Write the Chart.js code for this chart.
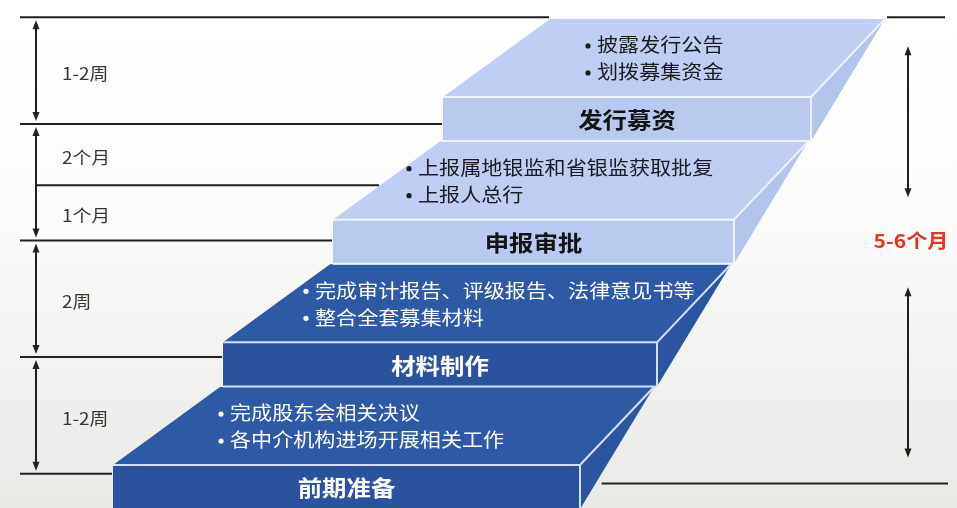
<!DOCTYPE html>
<html>
<head>
<meta charset="utf-8">
<script src="https://cdn.jsdelivr.net/npm/chart.js@4.4.0/dist/chart.umd.min.js"></script>
<style>
  html, body { margin: 0; padding: 0; background: #fff; }
  canvas { display: block; }
</style>
</head>
<body>
<canvas id="stairs" width="957" height="508"></canvas>
<script>
// 阶段（自下而上）
const stages = ['前期准备', '材料制作', '申报审批', '发行募资'];
const stageTasks = [
  ['完成股东会相关决议', '各中介机构进场开展相关工作'],
  ['完成审计报告、评级报告、法律意见书等', '整合全套募集材料'],
  ['上报属地银监和省银监获取批复', '上报人总行'],
  ['披露发行公告', '划拨募集资金']
];
const stageLevels = [0, 1, 2, 3];

// 左侧时间刻度（台阶高度单位）
const phaseLabels = ['1-2周', '2周', '1个月', '2个月', '1-2周'];
const phaseEdges = [-0.07, 0.88, 1.83, 2.28, 2.78, 3.65];
const phaseMajor = [true, true, true, false, true, true];

// 右侧总时长
const totalLabel = '5-6个月';
const totalEdges = [-0.15, 3.65];

// 版式
const L = {
  left0: 113, leftStep: 110, right0: 580, rightStep: 77,
  faceH: 0.36, depth: 0.636, backL: 107, backR: 74,
  taskIndent: [105, 80, 73, 142],
  stretch: 1.11
};
const FONT = '"Noto Sans CJK SC", "Noto Sans", sans-serif';

function stepGeom(chart, k) {
  const x = chart.scales.x, y = chart.scales.y;
  const lv = stageLevels[k];
  return {
    xL: x.getPixelForValue(L.left0 + L.leftStep * k),
    xR: x.getPixelForValue(L.right0 + L.rightStep * k),
    yF: y.getPixelForValue(lv),
    yFB: y.getPixelForValue(lv - L.faceH),
    yB: y.getPixelForValue(lv + L.depth)
  };
}

function leftEdgeAt(chart, py) {
  for (let k = stages.length - 1; k >= 0; k--) {
    const g = stepGeom(chart, k);
    if (k === stages.length - 1 && py < g.yB) return g.xL + L.backL;
    if (py >= g.yB && py < g.yF) return g.xL + L.backL * (g.yF - py) / (g.yF - g.yB);
    if (py >= g.yF && py <= g.yFB + 1) return g.xL;
  }
  return stepGeom(chart, 0).xL;
}

function rightEdgeAt(chart, py) {
  for (let k = stages.length - 1; k >= 0; k--) {
    const g = stepGeom(chart, k);
    if (k === stages.length - 1 && py < g.yB) return g.xR + L.backR;
    if (py >= g.yB && py <= g.yFB) return g.xR + L.backR * (g.yFB - py) / (g.yFB - g.yB);
  }
  return stepGeom(chart, 0).xR;
}

function poly(ctx, pts, fill) {
  ctx.beginPath();
  pts.forEach((p, i) => i ? ctx.lineTo(p[0], p[1]) : ctx.moveTo(p[0], p[1]));
  ctx.closePath();
  ctx.fillStyle = fill;
  ctx.fill();
}

function text(ctx, str, x, y, font, color, align) {
  ctx.save();
  ctx.font = font;
  ctx.fillStyle = color;
  ctx.textBaseline = 'middle';
  ctx.textAlign = align || 'left';
  ctx.translate(x, y);
  ctx.scale(L.stretch, 1);
  ctx.fillText(str, 0, 0);
  ctx.restore();
}

function dot(ctx, x, y, color) {
  ctx.beginPath();
  ctx.arc(x, y, 2.6, 0, Math.PI * 2);
  ctx.fillStyle = color;
  ctx.fill();
}

function vArrow(ctx, x, y1, y2) {
  ctx.beginPath();
  ctx.moveTo(x, y1 + 4);
  ctx.lineTo(x, y2 - 4);
  ctx.stroke();
  [[y1, 1], [y2, -1]].forEach(([yy, d]) => {
    ctx.beginPath();
    ctx.moveTo(x, yy);
    ctx.lineTo(x - 3.5, yy + d * 9);
    ctx.lineTo(x + 3.5, yy + d * 9);
    ctx.closePath();
    ctx.fill();
  });
}

function hLine(ctx, x1, x2, y) {
  ctx.beginPath();
  ctx.moveTo(x1, y);
  ctx.lineTo(x2, y);
  ctx.stroke();
}

const stairsPlugin = {
  id: 'stairs',
  beforeDraw(chart) {
    const ctx = chart.ctx;
    const g = ctx.createLinearGradient(0, 0, 0, chart.height);
    g.addColorStop(0, '#ffffff');
    g.addColorStop(0.45, '#fbfbfa');
    g.addColorStop(1, '#e8e9e5');
    ctx.fillStyle = g;
    ctx.fillRect(0, 0, chart.width, chart.height);
  },
  afterDatasetsDraw(chart) {
    const ctx = chart.ctx;
    const y = chart.scales.y;

    // 台阶
    stages.forEach((name, k) => {
      const g = stepGeom(chart, k);
      const dark = k < 2;
      const c = dark
        ? { top: '#2d5aa4', front: '#29539d', side: '#2a55a0', edge: '#d3e2f8', txt: '#ffffff' }
        : { top: '#bfcef2', front: '#b9c9ef', side: '#b4c5ed', edge: '#eef3fd', txt: '#1b1b1b' };

      poly(ctx, [[g.xL, g.yF], [g.xR, g.yF], [g.xR + L.backR, g.yB], [g.xL + L.backL, g.yB]], c.top);
      poly(ctx, [[g.xR, g.yF], [g.xR + L.backR, g.yB], [g.xR, g.yFB]], c.side);
      poly(ctx, [[g.xL, g.yF], [g.xR, g.yF], [g.xR, g.yFB], [g.xL, g.yFB]], c.front);

      ctx.save();
      ctx.strokeStyle = c.edge;
      ctx.lineWidth = 2;
      ctx.beginPath();
      ctx.moveTo(g.xL, g.yFB);
      ctx.lineTo(g.xR, g.yFB);
      ctx.lineTo(g.xR, g.yF);
      ctx.lineTo(g.xL, g.yF);
      ctx.moveTo(g.xR, g.yF);
      ctx.lineTo(g.xR + L.backR, g.yB);
      ctx.stroke();
      ctx.restore();

      text(ctx, name, (g.xL + g.xR) / 2, (g.yF + g.yFB) / 2 + 1,
        'bold 22px ' + FONT, dark ? '#ffffff' : '#141414', 'center');

      const tx = g.xL + L.taskIndent[k];
      stageTasks[k].forEach((t, i) => {
        const ty = g.yF - 52 + i * 27;
        dot(ctx, tx + 3, ty + 1, c.txt);
        text(ctx, t, tx + 12, ty, '19px ' + FONT, c.txt);
      });
    });

    // 左侧刻度
    ctx.save();
    ctx.strokeStyle = '#202020';
    ctx.fillStyle = '#202020';
    ctx.lineWidth = 2;
    const ax = 36;
    const edgePx = phaseEdges.map(v => y.getPixelForValue(v));
    edgePx.forEach((py, i) => {
      hLine(ctx, phaseMajor[i] ? 20 : ax, leftEdgeAt(chart, py) - 1, py);
    });
    let prev = null;
    edgePx.forEach((py, i) => {
      if (!phaseMajor[i]) return;
      if (prev !== null) vArrow(ctx, ax, py + 3, prev - 3);
      prev = py;
    });
    ctx.restore();
    phaseLabels.forEach((lab, i) => {
      const mid = (edgePx[i] + edgePx[i + 1]) / 2;
      text(ctx, lab, 62, mid + 3, '17px ' + FONT, '#3a3530');
    });

    // 右侧总时长
    ctx.save();
    ctx.strokeStyle = '#202020';
    ctx.fillStyle = '#202020';
    ctx.lineWidth = 2;
    const tp = y.getPixelForValue(totalEdges[1]);
    const bp = y.getPixelForValue(totalEdges[0]);
    hLine(ctx, rightEdgeAt(chart, tp) + 2, 945, tp);
    hLine(ctx, rightEdgeAt(chart, bp) + 6, 948, bp);
    const rx = 908;
    const ly = (tp + bp) / 2 - 10;
    vArrow(ctx, rx, tp + 29, ly - 43);
    vArrow(ctx, rx, ly + 47, bp - 26);
    ctx.restore();
    text(ctx, totalLabel, rx + 3, ly, 'bold 19px ' + FONT, '#e8321e', 'center');
  }
};

new Chart(document.getElementById('stairs'), {
  type: 'scatter',
  data: { datasets: [] },
  options: {
    responsive: false,
    animation: false,
    devicePixelRatio: 1,
    layout: { padding: 0 },
    plugins: { legend: { display: false }, tooltip: { enabled: false } },
    scales: {
      x: { type: 'linear', min: 0, max: 957, display: false },
      y: { type: 'linear', min: -0.35, max: 3.79, display: false }
    }
  },
  plugins: [stairsPlugin]
});
</script>
</body>
</html>
